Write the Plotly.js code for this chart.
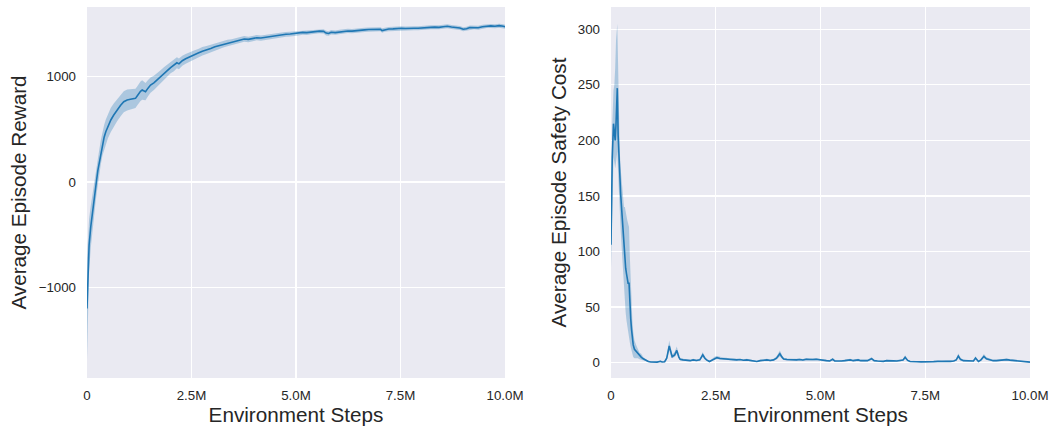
<!DOCTYPE html>
<html>
<head>
<meta charset="utf-8">
<script src="https://cdn.plot.ly/plotly-3.0.1.min.js"></script>
<style>
  html, body { margin: 0; padding: 0; background: #ffffff; }
  #chart { width: 1051px; height: 427px; }
</style>
</head>
<body>
<div id="chart"></div>
<script>
// ---------- Data (environment steps in millions) ----------
const rewardStepsM = [
  0.00, 0.02, 0.05, 0.09, 0.13, 0.17, 0.20, 0.23, 0.26, 0.29, 0.33, 0.37, 0.41, 0.45, 0.50,
  0.57, 0.64, 0.72, 0.80, 0.88, 0.96, 1.04, 1.10, 1.16, 1.20, 1.24, 1.28, 1.32, 1.36, 1.40,
  1.46, 1.52, 1.60, 1.68, 1.76, 1.84, 1.92, 2.00, 2.08, 2.15, 2.20, 2.28, 2.36, 2.46, 2.56,
  2.66, 2.76, 2.86, 2.96, 3.06, 3.16, 3.26, 3.36, 3.46, 3.56, 3.66, 3.76, 3.86, 3.96, 4.06,
  4.16, 4.26, 4.36, 4.46, 4.56, 4.66, 4.76, 4.86, 4.96, 5.06, 5.16, 5.26, 5.36, 5.46, 5.56,
  5.66, 5.72, 5.78, 5.84, 5.94, 6.04, 6.14, 6.24, 6.34, 6.44, 6.54, 6.64, 6.74, 6.84, 6.94,
  7.02, 7.06, 7.12, 7.22, 7.32, 7.42, 7.52, 7.62, 7.72, 7.82, 7.92, 8.02, 8.12, 8.22, 8.32,
  8.42, 8.52, 8.62, 8.72, 8.82, 8.92, 9.00, 9.08, 9.16, 9.26, 9.36, 9.46, 9.56, 9.66, 9.76,
  9.86, 9.96, 10.00
];
const rewardMean = [
  -1200, -850, -600, -424, -280, -171, -70, 19, 110, 177, 280, 367, 425, 477, 530,
  588, 635, 682, 725, 761, 778, 784, 790, 793, 815, 841, 860, 872, 862, 856,
  890, 919, 940, 967, 1000, 1030, 1055, 1085, 1105, 1130, 1120, 1150, 1168, 1188, 1205,
  1222, 1240, 1251, 1265, 1282, 1292, 1305, 1318, 1326, 1338, 1345, 1356, 1352, 1360, 1368,
  1365, 1372, 1378, 1385, 1390, 1395, 1400, 1403, 1410, 1412, 1418, 1416, 1422, 1426, 1430,
  1428, 1412, 1408, 1420, 1416, 1422, 1428, 1432, 1430, 1436, 1440, 1442, 1445, 1448, 1450,
  1448, 1436, 1444, 1450, 1452, 1456, 1458, 1455, 1460, 1458, 1457, 1462, 1460, 1466, 1468,
  1466, 1472, 1476, 1470, 1468, 1460, 1448, 1452, 1464, 1466, 1462, 1472, 1478, 1480, 1476,
  1482, 1476, 1472
];
const rewardCI = [
  480, 330, 250, 200, 170, 150, 140, 130, 125, 120, 115, 115, 115, 115, 115,
  115, 110, 105, 105, 100, 100, 98, 95, 92, 90, 90, 92, 92, 88, 82,
  76, 72, 68, 64, 60, 58, 56, 55, 55, 52, 50, 48, 46, 45, 42,
  40, 40, 38, 36, 34, 32, 30, 30, 28, 28, 27, 27, 26, 26, 25,
  25, 25, 24, 24, 24, 23, 23, 23, 22, 22, 22, 22, 22, 21, 21,
  21, 22, 22, 21, 21, 21, 20, 20, 20, 20, 20, 20, 20, 20, 20,
  20, 21, 20, 20, 20, 20, 19, 19, 19, 19, 19, 19, 19, 19, 19,
  19, 19, 19, 19, 19, 19, 20, 19, 19, 19, 19, 19, 19, 19, 19,
  19, 19, 19
];

const costStepsM = [
  0.00, 0.03, 0.06, 0.08, 0.10, 0.12, 0.15, 0.17, 0.19, 0.21, 0.23, 0.26, 0.29, 0.31, 0.33,
  0.35, 0.37, 0.39, 0.41, 0.43, 0.45, 0.47, 0.49, 0.51, 0.53, 0.56, 0.60, 0.64, 0.68, 0.72,
  0.77, 0.83, 0.89, 0.95, 1.02, 1.10, 1.18, 1.22, 1.28, 1.33, 1.39, 1.43, 1.46, 1.52, 1.57,
  1.62, 1.65, 1.72, 1.80, 1.89, 1.96, 2.04, 2.12, 2.19, 2.24, 2.28, 2.35, 2.42, 2.48, 2.53,
  2.60, 2.68, 2.76, 2.84, 2.92, 3.00, 3.08, 3.16, 3.24, 3.32, 3.40, 3.48, 3.56, 3.64, 3.72,
  3.80, 3.88, 3.95, 4.03, 4.08, 4.12, 4.20, 4.28, 4.36, 4.43, 4.50, 4.58, 4.66, 4.74, 4.82,
  4.90, 4.98, 5.06, 5.14, 5.22, 5.29, 5.34, 5.42, 5.50, 5.58, 5.66, 5.71, 5.78, 5.85, 5.90,
  5.96, 6.04, 6.12, 6.22, 6.28, 6.36, 6.44, 6.50, 6.58, 6.66, 6.74, 6.82, 6.90, 6.97, 7.02,
  7.08, 7.14, 7.22, 7.30, 7.40, 7.50, 7.60, 7.70, 7.80, 7.90, 8.00, 8.10, 8.18, 8.24, 8.29,
  8.34, 8.41, 8.50, 8.58, 8.65, 8.70, 8.74, 8.77, 8.83, 8.90, 8.96, 9.04, 9.12, 9.20, 9.28,
  9.36, 9.44, 9.52, 9.60, 9.68, 9.76, 9.84, 9.92, 10.00
];
const costMean = [
  106, 185, 215, 205, 200, 215, 247, 205, 185, 165, 152, 135, 119, 104, 90,
  85, 80, 74, 71, 72, 50, 40, 30, 22, 16, 12, 10, 9, 6, 5,
  3.5, 2, 1, 0.6, 0.5, 0.5, 1.2, 0.6, 0.8, 4, 15, 8, 5.4, 7, 11,
  5, 3, 2.5, 2, 1.8, 2.5, 2, 2.5, 7, 4, 2.5, 1, 2.5, 4, 4.5,
  3.8, 3.5, 3.3, 2.5, 2.8, 2.5, 2.8, 2.2, 2.5, 2, 1.5, 1, 1.8, 2.2, 2.5,
  2, 2.5, 4, 8, 5, 3.3, 2.8, 2.6, 2.5, 2.5, 2.8, 2.4, 3, 2.6, 2.8,
  3, 2.4, 2.2, 1.8, 1.5, 3, 1.5, 1.2, 1.5, 1.8, 2.2, 2.5, 1.8, 2, 2.5,
  1.8, 1.6, 1.8, 3.6, 1.8, 1.5, 1.4, 1.2, 1.8, 1.4, 1.6, 1.5, 1.8, 2.4, 4.8,
  2, 1, 1.2, 0.8, 0.7, 0.6, 0.6, 0.9, 1.2, 1, 1.4, 1.2, 1.5, 2.5, 6,
  3, 1.8, 1.5, 1.2, 1.5, 4.2, 2, 1, 2.5, 5.7, 3.5, 2.5, 1.8, 1.8, 2.2,
  2.5, 2.7, 2.3, 2, 1.8, 1.5, 1.2, 0.9, 0.5
];
// distance of the confidence band below / above the mean
const costBandBelow = [
  21, 35, 30, 25, 25, 35, 57, 35, 35, 30, 32, 35, 39, 39, 35,
  40, 42, 42, 43, 50, 32, 26, 20, 15, 11, 8, 6, 5, 3, 2.5,
  1.5, 1, 0.5, 0.3, 0.3, 0.3, 0.6, 0.3, 0.4, 1.5, 4, 2.5, 1.5, 2, 3,
  1.5, 1, 0.8, 0.7, 0.6, 0.8, 0.7, 0.8, 2, 1.2, 0.8, 0.5, 0.8, 1.2, 1.2,
  1, 1, 1, 0.8, 0.8, 0.8, 0.8, 0.7, 0.8, 0.7, 0.5, 0.4, 0.6, 0.7, 0.8,
  0.7, 0.8, 1.2, 2.5, 1.5, 1, 0.8, 0.8, 0.8, 0.8, 0.8, 0.8, 0.9, 0.8, 0.8,
  0.9, 0.8, 0.7, 0.6, 0.5, 0.9, 0.5, 0.4, 0.5, 0.6, 0.7, 0.8, 0.6, 0.6, 0.8,
  0.6, 0.5, 0.6, 1, 0.6, 0.5, 0.5, 0.4, 0.6, 0.5, 0.5, 0.5, 0.6, 0.7, 1.4,
  0.6, 0.4, 0.4, 0.3, 0.3, 0.3, 0.3, 0.3, 0.4, 0.4, 0.5, 0.4, 0.5, 0.8, 1.8,
  1, 0.6, 0.5, 0.4, 0.5, 1.2, 0.6, 0.4, 0.8, 1.6, 1, 0.8, 0.6, 0.6, 0.7,
  0.8, 0.8, 0.7, 0.6, 0.6, 0.5, 0.4, 0.3, 0.2
];
const costBandAbove = [
  19, 30, 30, 45, 65, 75, 58, 60, 30, 25, 23, 25, 26, 36, 50,
  50, 50, 54, 54, 50, 45, 30, 25, 16, 12, 8, 6, 4, 3, 3,
  1.5, 1, 0.8, 0.4, 0.4, 0.4, 0.8, 0.4, 0.5, 2, 5, 3, 2, 2.5, 3.5,
  2, 1.2, 1, 0.8, 0.8, 1, 0.8, 1, 2.5, 1.5, 1, 0.6, 1, 1.5, 1.5,
  1.3, 1.2, 1.2, 1, 1, 1, 1, 0.9, 1, 0.8, 0.7, 0.5, 0.8, 0.9, 1,
  0.8, 1, 1.5, 3, 2, 1.2, 1, 1, 1, 1, 1, 1, 1.1, 1, 1,
  1.1, 1, 0.9, 0.8, 0.7, 1.1, 0.7, 0.6, 0.7, 0.8, 0.9, 1, 0.8, 0.8, 1,
  0.8, 0.7, 0.8, 1.3, 0.8, 0.7, 0.6, 0.6, 0.8, 0.6, 0.7, 0.7, 0.8, 0.9, 1.8,
  0.8, 0.5, 0.5, 0.4, 0.4, 0.4, 0.4, 0.4, 0.5, 0.5, 0.6, 0.5, 0.6, 1, 2.2,
  1.2, 0.8, 0.6, 0.5, 0.6, 1.5, 0.8, 0.5, 1, 2, 1.3, 1, 0.8, 0.8, 0.9,
  1, 1, 0.9, 0.8, 0.8, 0.6, 0.5, 0.4, 0.3
];

const xTickVals = [0, 2.5e6, 5e6, 7.5e6, 10e6];
const xTickText = ['0', '2.5M', '5.0M', '7.5M', '10.0M'];

// ---------- Build traces ----------
const LINE = '#1f77b4';
const BAND = 'rgba(31,119,180,0.3)';
const toSteps = a => a.map(v => v * 1e6);

const rx = toSteps(rewardStepsM);
const rUpper = rewardMean.map((m, i) => m + rewardCI[i]);
const rLower = rewardMean.map((m, i) => m - rewardCI[i]);
const cx = toSteps(costStepsM);
const cUpper = costMean.map((m, i) => m + costBandAbove[i]);
const cLower = costMean.map((m, i) => m - costBandBelow[i]);

function bandTraces(x, lo, hi, xa, ya) {
  return [
    {x: x, y: hi, xaxis: xa, yaxis: ya, type: 'scatter', mode: 'lines',
     line: {width: 0, color: BAND}, hoverinfo: 'skip', showlegend: false},
    {x: x, y: lo, xaxis: xa, yaxis: ya, type: 'scatter', mode: 'lines',
     line: {width: 0, color: BAND}, fill: 'tonexty', fillcolor: BAND,
     hoverinfo: 'skip', showlegend: false}
  ];
}

const traces = [
  ...bandTraces(rx, rLower, rUpper, 'x', 'y'),
  {x: rx, y: rewardMean, xaxis: 'x', yaxis: 'y', type: 'scatter', mode: 'lines',
   line: {color: LINE, width: 1.6}, showlegend: false},
  ...bandTraces(cx, cLower, cUpper, 'x2', 'y2'),
  {x: cx, y: costMean, xaxis: 'x2', yaxis: 'y2', type: 'scatter', mode: 'lines',
   line: {color: LINE, width: 1.6}, showlegend: false}
];

const FONT = 'Liberation Sans, Arial, Helvetica, sans-serif';
const TXT = '#262626';
const tickFont = {family: FONT, size: 13.3, color: TXT};
const titleFont = {family: FONT, size: 20.7, color: TXT};

function xAxis(domain, anchor) {
  return {
    domain: domain, anchor: anchor, range: [0, 10e6],
    tickmode: 'array', tickvals: xTickVals, ticktext: xTickText,
    showgrid: true, gridcolor: '#ffffff', gridwidth: 1.2,
    zeroline: false, showline: false, ticks: '', ticklabelstandoff: 8,
    tickfont: tickFont, fixedrange: true,
    title: {text: 'Environment Steps', font: titleFont, standoff: 5}
  };
}

const layout = {
  width: 1051, height: 427,
  margin: {l: 0, r: 0, t: 7, b: 49},
  paper_bgcolor: '#ffffff',
  plot_bgcolor: '#EAEAF2',
  showlegend: false,
  xaxis: xAxis([87/1051, 505/1051], 'y'),
  xaxis2: xAxis([611/1051, 1030/1051], 'y2'),
  yaxis: {
    domain: [0, 1], anchor: 'x', range: [-1858, 1659],
    tickmode: 'array', tickvals: [-1000, 0, 1000],
    showgrid: true, gridcolor: '#ffffff', gridwidth: 1.2,
    zeroline: false, showline: false, ticks: '', ticklabelstandoff: 10,
    tickfont: tickFont, fixedrange: true,
    title: {text: 'Average Episode Reward', font: titleFont, standoff: 6}
  },
  yaxis2: {
    domain: [0, 1], anchor: 'x2', range: [-13.8, 320],
    tickmode: 'array', tickvals: [0, 50, 100, 150, 200, 250, 300],
    showgrid: true, gridcolor: '#ffffff', gridwidth: 1.2,
    zeroline: false, showline: false, ticks: '', ticklabelstandoff: 10,
    tickfont: tickFont, fixedrange: true,
    title: {text: 'Average Episode Safety Cost', font: titleFont, standoff: 5}
  }
};

Plotly.newPlot('chart', traces, layout, {displayModeBar: false, staticPlot: true});
</script>
</body>
</html>
